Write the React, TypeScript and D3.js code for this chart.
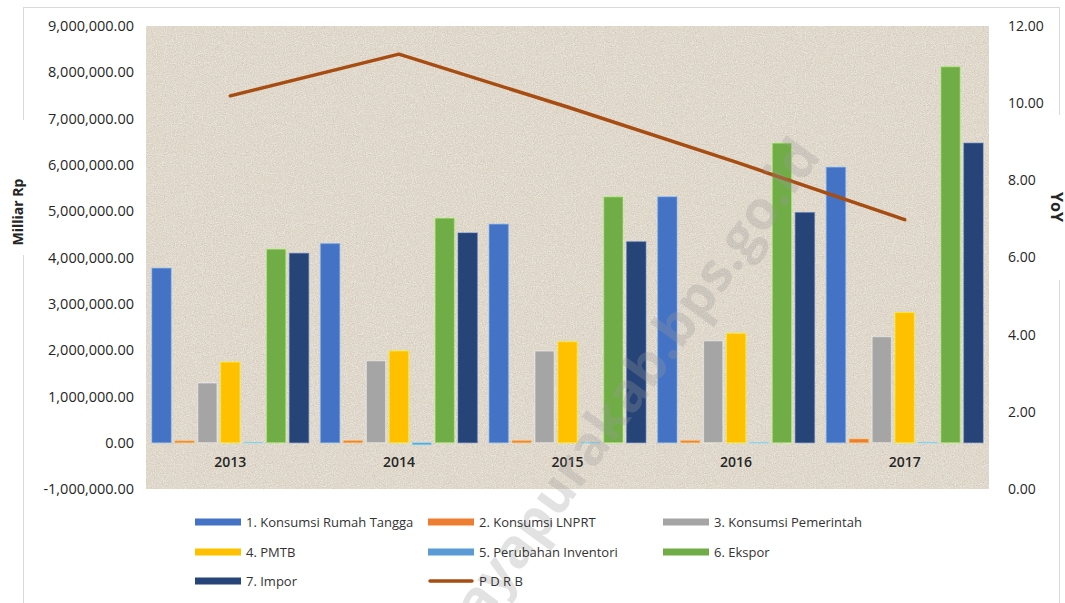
import React, { useRef, useEffect } from "react";
import {
  select,
  scaleBand,
  scaleLinear,
  axisLeft,
  axisRight,
  axisBottom,
  line,
  format,
  color,
} from "d3";

// data (Milliar Rp, PDRB in % yoy)
const years = ["2013", "2014", "2015", "2016", "2017"];
const rumahTangga = [3770000, 4300000, 4720000, 5310000, 5950000];
const lnprt = [40000, 45000, 45000, 45000, 80000];
const pemerintah = [1290000, 1770000, 1980000, 2200000, 2290000];
const pmtb = [1740000, 1980000, 2180000, 2360000, 2810000];
const inventori = [6000, -45000, 5000, 4000, 6000];
const ekspor = [4180000, 4850000, 5310000, 6470000, 8120000];
const impor = [4090000, 4530000, 4340000, 4970000, 6470000];
const pdrb = [10.19, 11.27, 9.9, 8.47, 6.98];

const seriesNames = [
  "1. Konsumsi Rumah Tangga",
  "2. Konsumsi LNPRT",
  "3. Konsumsi Pemerintah",
  "4. PMTB",
  "5. Perubahan Inventori",
  "6. Ekspor",
  "7. Impor",
];
const seriesValues = [rumahTangga, lnprt, pemerintah, pmtb, inventori, ekspor, impor];
const seriesColors = ["#4472C4", "#ED7D31", "#A5A5A5", "#FFC000", "#5B9BD5", "#70AD47", "#264478"];
const lineName = "P D R B";
const lineColor = "#A84D12";

const leftTicks = [-1000000, 0, 1000000, 2000000, 3000000, 4000000, 5000000, 6000000, 7000000, 8000000, 9000000];
const rightTicks = [0, 2, 4, 6, 8, 10, 12];

const App: React.FC = () => {
  const svgRef = useRef<SVGSVGElement>(null);

  useEffect(() => {
    const svg = select(svgRef.current);
    svg.selectAll("*").remove();

    const width = 1065;
    const height = 603;
    const plot = { left: 146, right: 989, top: 26, bottom: 489 };
    const font = "'Open Sans', 'Noto Sans', sans-serif";

    svg.append("rect").attr("width", width).attr("height", height).attr("fill", "#fff");

    // outer chart border
    svg
      .append("rect")
      .attr("x", 23.5)
      .attr("y", 7.5)
      .attr("width", 1036)
      .attr("height", 640)
      .attr("fill", "none")
      .attr("stroke", "#d9d9d9");

    // paper texture for plot area
    const defs = svg.append("defs");
    const grain = defs
      .append("filter")
      .attr("id", "grain")
      .attr("x", 0)
      .attr("y", 0)
      .attr("width", "100%")
      .attr("height", "100%");
    grain
      .append("feTurbulence")
      .attr("type", "fractalNoise")
      .attr("baseFrequency", "0.9")
      .attr("numOctaves", 2)
      .attr("seed", 11)
      .attr("result", "n");
    grain
      .append("feColorMatrix")
      .attr("in", "n")
      .attr("type", "matrix")
      .attr("values", "0 0 0 0 0.5  0 0 0 0 0.46  0 0 0 0 0.41  -12 0 0 0 4.6")
      .attr("result", "dark");
    grain
      .append("feColorMatrix")
      .attr("in", "n")
      .attr("type", "matrix")
      .attr("values", "0 0 0 0 1  0 0 0 0 1  0 0 0 0 0.98  12 0 0 0 -6.9")
      .attr("result", "light");
    const merge = grain.append("feMerge");
    merge.append("feMergeNode").attr("in", "dark");
    merge.append("feMergeNode").attr("in", "light");

    svg
      .append("rect")
      .attr("x", plot.left)
      .attr("y", plot.top)
      .attr("width", plot.right - plot.left)
      .attr("height", plot.bottom - plot.top)
      .attr("fill", "#dfd7ca");
    svg
      .append("rect")
      .attr("x", plot.left)
      .attr("y", plot.top)
      .attr("width", plot.right - plot.left)
      .attr("height", plot.bottom - plot.top)
      .attr("filter", "url(#grain)")
      .attr("opacity", 0.3);

    // scales
    const x0 = scaleBand<string>()
      .domain(years)
      .range([plot.left, plot.right])
      .paddingInner(0.07)
      .paddingOuter(0.035);
    const x1 = scaleBand<number>()
      .domain(seriesNames.map((_, i) => i))
      .range([0, x0.bandwidth()])
      .paddingInner(0.16);
    const yL = scaleLinear().domain([-1000000, 9000000]).range([plot.bottom, plot.top]);
    const yR = scaleLinear().domain([0, 12]).range([plot.bottom, plot.top]);

    // bars
    const groups = svg
      .append("g")
      .selectAll("g")
      .data(years)
      .join("g")
      .attr("transform", (d) => `translate(${x0(d)},0)`);
    groups
      .selectAll("rect")
      .data((_, yi) => seriesValues.map((vals, si) => ({ si, v: vals[yi] })))
      .join("rect")
      .attr("x", (d) => x1(d.si)!)
      .attr("y", (d) => Math.min(yL(d.v), yL(0)))
      .attr("width", x1.bandwidth())
      .attr("height", (d) => Math.max(Math.abs(yL(d.v) - yL(0)), 0.6))
      .attr("fill", (d) => seriesColors[d.si])
      .attr("stroke", (d) => color(seriesColors[d.si])!.brighter(1.2).formatHex())
      .attr("stroke-opacity", 0.45)
      .attr("stroke-width", 1.2);

    // PDRB line on right axis
    const lineGen = line<number>()
      .x((_, i) => x0(years[i])! + x0.bandwidth() / 2)
      .y((d) => yR(d));
    svg
      .append("path")
      .datum(pdrb)
      .attr("d", lineGen)
      .attr("fill", "none")
      .attr("stroke", lineColor)
      .attr("stroke-width", 3.5)
      .attr("stroke-linejoin", "round")
      .attr("stroke-linecap", "round");

    // axes
    const fmtLeft = (d: number) => format(",.2f")(d).replace("\u2212", "-");
    const leftAxis = svg
      .append("g")
      .attr("transform", `translate(${plot.left},0)`)
      .call(axisLeft(yL).tickValues(leftTicks).tickFormat(fmtLeft as any).tickSize(0).tickPadding(12));
    const rightAxis = svg
      .append("g")
      .attr("transform", `translate(${plot.right},0)`)
      .call(axisRight(yR).tickValues(rightTicks).tickFormat(format(".2f")).tickSize(0).tickPadding(19));
    const catAxis = svg
      .append("g")
      .attr("transform", `translate(0,${yL(0)})`)
      .call(axisBottom(x0).tickSize(0).tickPadding(14));

    [leftAxis, rightAxis, catAxis].forEach((a) => {
      a.select(".domain").remove();
      a.selectAll("text")
        .attr("fill", "#262626")
        .style("font-family", font)
        .style("font-size", "14px");
    });
    leftAxis.selectAll("text").style("font-size", "14.5px");
    catAxis.selectAll("text").style("font-weight", "600");

    // watermark
    svg
      .append("text")
      .attr("transform", "translate(822,156) rotate(-54)")
      .attr("text-anchor", "end")
      .style("font-family", font)
      .style("font-weight", "700")
      .style("font-size", "54px")
      .attr("fill", "#9a9a9a")
      .attr("opacity", 0.28)
      .text("jayapurakab.bps.go.id");

    // axis titles (white boxes break the border like the original)
    svg.append("rect").attr("x", 8).attr("y", 120).attr("width", 24).attr("height", 135).attr("fill", "#fff");
    svg
      .append("text")
      .attr("transform", "translate(23,212) rotate(-90)")
      .attr("text-anchor", "middle")
      .style("font-family", font)
      .style("font-weight", "700")
      .style("font-size", "14px")
      .attr("fill", "#262626")
      .text("Milliar Rp");
    svg.append("rect").attr("x", 1050).attr("y", 115).attr("width", 15).attr("height", 165).attr("fill", "#fff");
    svg
      .append("text")
      .attr("transform", "translate(1051,207) rotate(90)")
      .attr("text-anchor", "middle")
      .style("font-family", font)
      .style("font-weight", "700")
      .style("font-size", "16px")
      .attr("fill", "#262626")
      .text("YoY");

    // legend
    const legendRows = [522, 552, 581];
    const legendCols = [195, 428, 663];
    const items = [
      ...seriesNames.map((name, i) => ({ name, color: seriesColors[i], isLine: false })),
      { name: lineName, color: lineColor, isLine: true },
    ];
    const legend = svg.append("g");
    items.forEach((it, i) => {
      const gx = legendCols[i % 3];
      const gy = legendRows[Math.floor(i / 3)];
      const g = legend.append("g").attr("transform", `translate(${gx},${gy})`);
      if (it.isLine) {
        g.append("line")
          .attr("x1", 2)
          .attr("x2", 44)
          .attr("y1", 0)
          .attr("y2", 0)
          .attr("stroke", it.color)
          .attr("stroke-width", 3.5)
          .attr("stroke-linecap", "round");
      } else {
        g.append("rect").attr("x", 0).attr("y", -3.5).attr("width", 46).attr("height", 7).attr("fill", it.color);
      }
      g.append("text")
        .attr("x", 51)
        .attr("y", 0)
        .attr("dy", "0.35em")
        .style("font-family", font)
        .style("font-size", "13px")
        .attr("fill", "#333")
        .text(it.name);
    });
  }, []);

  return (
    <div style={{ position: "absolute", left: 0, top: 0 }}>
      <svg ref={svgRef} width={1065} height={603} viewBox="0 0 1065 603" />
    </div>
  );
};

export default App;
